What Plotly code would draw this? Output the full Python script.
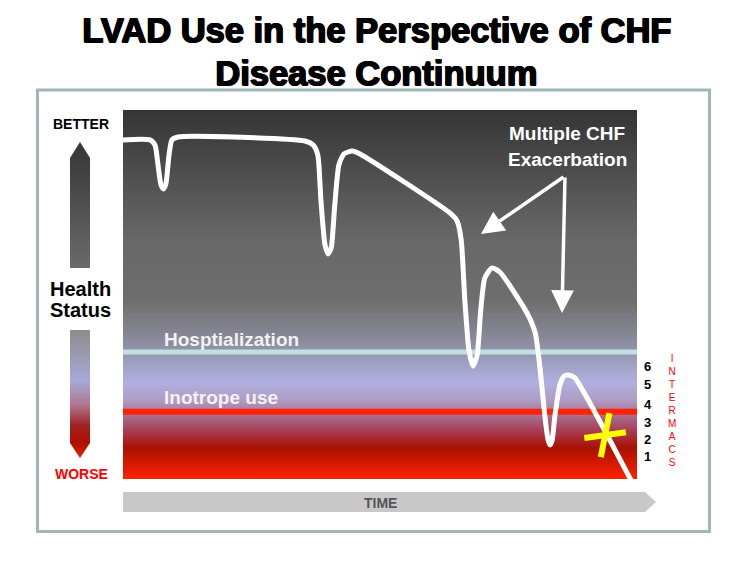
import plotly.graph_objects as go

# Health status curve (time 0-100, health 0-100)
time_pts = [0, 5.25, 6.23, 6.81, 7.39, 7.88, 8.37, 8.95, 9.53, 10.7,
            35.4, 37.0, 37.9, 38.5, 39.3, 39.9, 40.5, 41.2, 42.0, 43.0, 44.6, 46.1,
            63.6, 65.0, 65.8, 66.5, 67.3, 68.1, 68.9, 69.6, 70.4, 71.8, 73.3,
            78.6, 80.2, 81.1, 82.1, 82.7, 83.1, 83.5, 84.0, 85.0, 85.8, 86.6, 87.9,
            98.6, 99.6]
health_pts = [91.9, 91.9, 90.5, 85.1, 79.7, 78.6, 80.2, 87.8, 91.9, 92.7,
              91.6, 90.5, 87.8, 75.6, 63.4, 61.0, 62.6, 74.3, 85.1, 88.1, 88.9, 88.1,
              72.1, 69.9, 64.8, 48.5, 35.0, 30.6, 33.6, 45.8, 54.5, 57.2, 56.1,
              45.0, 39.6, 30.4, 16.8, 10.6, 9.2, 10.6, 16.8, 25.5, 27.9, 28.2, 27.4,
              0.3, -2.0]

hosp_level = 34.4
inotrope_level = 18.2
intermacs_labels = ['1', '2', '3', '4', '5', '6']
intermacs_pos = [6.0, 10.8, 15.4, 20.3, 25.7, 30.6]
event_time = [93.8]
event_health = [11.9]

W, H = 743, 566


def Y(py):
    # pixel row -> overlay axis value
    return H - py


panel_scale = [
    [0.0, '#ff2200'], [0.046, '#d01800'], [0.084, '#a81000'], [0.133, '#a84058'],
    [0.173, '#a8708f'], [0.214, '#b09cc4'], [0.263, '#b0b0e0'], [0.377, '#8a8a9c'],
    [0.485, '#6e6e6e'], [0.648, '#686868'], [1.0, '#353535'],
]

fig = go.Figure()

# panel background
fig.add_trace(go.Scatter(
    x=[0, 100, 100, 0, 0], y=[0, 0, 100, 100, 0], mode='none', fill='toself',
    fillgradient=dict(type='vertical', colorscale=panel_scale, start=0, stop=100),
    hoverinfo='skip'))

# threshold lines
fig.add_trace(go.Scatter(x=[0, 100], y=[hosp_level, hosp_level], mode='lines',
                         line=dict(color='#bfe2e0', width=5), hoverinfo='skip'))
fig.add_trace(go.Scatter(x=[0, 100], y=[inotrope_level, inotrope_level], mode='lines',
                         line=dict(color='#ff2200', width=6), hoverinfo='skip'))

# health curve
fig.add_trace(go.Scatter(x=time_pts, y=health_pts, mode='lines',
                         line=dict(color='white', width=5, shape='spline', smoothing=0.6),
                         hoverinfo='skip'))

# yellow X (two slightly skewed strokes)
fig.add_trace(go.Scatter(x=event_time, y=event_health, mode='markers',
                         marker=dict(symbol='line-ew', size=30, angle=-8,
                                     line=dict(color='#ffff00', width=6)),
                         hoverinfo='skip'))
fig.add_trace(go.Scatter(x=event_time, y=event_health, mode='markers',
                         marker=dict(symbol='line-ns', size=32, angle=11,
                                     line=dict(color='#ffff00', width=6)),
                         hoverinfo='skip'))

# left health arrows (overlay pixel axes)
fig.add_trace(go.Scatter(
    x=[70, 80, 90, 90, 70, 70], y=[Y(158), Y(142), Y(158), Y(268), Y(268), Y(158)],
    xaxis='x2', yaxis='y2', mode='none', fill='toself',
    fillgradient=dict(type='vertical', start=Y(268), stop=Y(142),
                      colorscale=[[0, '#6a6a6a'], [1, '#353535']]),
    hoverinfo='skip'))
fig.add_trace(go.Scatter(
    x=[70, 90, 90, 80, 70, 70], y=[Y(330), Y(330), Y(443), Y(458), Y(443), Y(330)],
    xaxis='x2', yaxis='y2', mode='none', fill='toself',
    fillgradient=dict(type='vertical', start=Y(458), stop=Y(330),
                      colorscale=[[0, '#e02000'], [0.12, '#b01000'], [0.25, '#a02020'],
                                  [0.42, '#b07890'], [0.6, '#a8a8d8'], [1, '#8c8c8c']]),
    hoverinfo='skip'))

# time bar
fig.add_trace(go.Scatter(
    x=[123, 645, 656, 645, 123, 123], y=[Y(492), Y(492), Y(502), Y(512), Y(512), Y(492)],
    xaxis='x2', yaxis='y2', mode='none', fill='toself', fillcolor='#c8c8c8',
    hoverinfo='skip'))

font = 'Liberation Sans, Arial, sans-serif'
heavy = '1px 0px 0px #000, 0px 1px 0px #000, 1px 1px 0px #000, -0.5px 0px 0px #000'
ann = []


def txt(x, y, text, size, color='black', bold=True, xanchor='center', **kw):
    ann.append(dict(x=x, y=Y(y), xref='x2', yref='y2', text=text, showarrow=False,
                    xanchor=xanchor, yanchor='middle',
                    font=dict(family=font, size=size, color=color,
                              weight='bold' if bold else 'normal', **kw)))


txt(376, 30, 'LVAD Use in the Perspective of CHF', 34.5, shadow=heavy)
txt(376, 73, 'Disease Continuum', 34.5, shadow=heavy)
txt(81, 124, 'BETTER', 14)
txt(80, 289, 'Health', 20)
txt(80, 310, 'Status', 20)
txt(81, 474, 'WORSE', 14, color='#ff0000')
txt(162, 339, 'Hosptialization', 19, color='#f2f2f2', xanchor='left')
txt(162, 397, 'Inotrope use', 19, color='#f2f2f2', xanchor='left')
txt(567, 133, 'Multiple CHF', 19, color='white')
txt(567, 159, 'Exacerbation', 19, color='white')
txt(380, 503, 'TIME', 14, color='#555555')
txt(672, 410, '<br>'.join('INTERMACS'), 10, color='#ff0000', bold=False)

# exacerbation arrows
for tx, ty in [(481, 234), (562, 313)]:
    ann.append(dict(x=tx, y=Y(ty), ax=565, ay=Y(176), xref='x2', yref='y2',
                    axref='x2', ayref='y2', text='', showarrow=True,
                    arrowhead=2, arrowsize=1.3, arrowwidth=3.5, arrowcolor='white'))

fig.update_layout(
    width=W, height=H,
    margin=dict(l=0, r=0, t=0, b=0),
    paper_bgcolor='white',
    plot_bgcolor='rgba(0,0,0,0)',
    showlegend=False,
    annotations=ann,
    xaxis=dict(domain=[123 / W, 637 / W], range=[0, 100], visible=False, fixedrange=True),
    yaxis=dict(domain=[(H - 479) / H, (H - 110) / H], range=[0, 100], side='right',
               showgrid=False, zeroline=False, showline=False, ticks='',
               tickvals=intermacs_pos, ticktext=intermacs_labels, ticklabelstandoff=6,
               tickfont=dict(family=font, size=13, color='black', weight='bold'),
               fixedrange=True),
    xaxis2=dict(domain=[0, 1], range=[0, W], visible=False, fixedrange=True),
    yaxis2=dict(domain=[0, 1], range=[0, H], visible=False, fixedrange=True, anchor='x2'),
    shapes=[dict(type='rect', xref='x2', yref='y2', x0=37.5, x1=709.5, y0=Y(90), y1=Y(531.5),
                 line=dict(color='#9fb7ba', width=3))],
)

fig.write_html("out.html", config={'displayModeBar': False},
               post_script="document.body.style.margin='0';")
